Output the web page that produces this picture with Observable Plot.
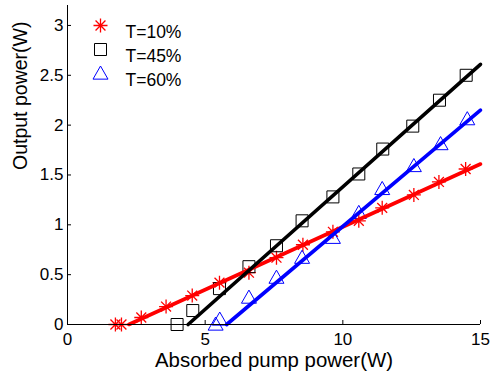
<!DOCTYPE html>
<html>
<head>
<meta charset="utf-8">
<script src="https://cdn.jsdelivr.net/npm/d3@7"></script>
<script src="https://cdn.jsdelivr.net/npm/@observablehq/plot@0.6"></script>
<style>
  html, body { margin: 0; padding: 0; background: #fff; }
  #chart { width: 490px; height: 377px; }
  svg { font-family: "Liberation Sans", Arial, Helvetica, sans-serif; }
</style>
</head>
<body>
<div id="chart"></div>
<script>
// ---- data ----
const seriesNames = ["T=10%", "T=45%", "T=60%"];
const seriesColors = ["#ff0000", "#000000", "#0000ff"];

const p10x = [1.74, 1.96, 2.68, 3.58, 4.53, 5.52, 6.59, 7.59, 8.55, 9.64, 10.58, 11.43, 12.58, 13.49, 14.46];
const p10y = [0, 0, 0.07, 0.18, 0.29, 0.42, 0.52, 0.67, 0.80, 0.93, 1.04, 1.17, 1.30, 1.43, 1.56];
const p45x = [3.98, 4.55, 5.52, 6.59, 7.59, 8.52, 9.64, 10.58, 11.45, 12.54, 13.51, 14.48];
const p45y = [0, 0.14, 0.36, 0.58, 0.79, 1.04, 1.28, 1.51, 1.76, 1.99, 2.25, 2.50];
const p60x = [5.38, 5.53, 6.59, 7.59, 8.52, 9.64, 10.58, 11.43, 12.58, 13.55, 14.52];
const p60y = [0, 0.05, 0.27, 0.47, 0.67, 0.87, 1.12, 1.36, 1.59, 1.81, 2.06];

// fitted lines (end points)
const fit10x = [2.23, 15], fit10y = [0, 1.61];
const fit45x = [4.38, 15], fit45y = [0, 2.61];
const fit60x = [5.78, 15], fit60y = [0, 2.15];

const xTicks = [0, 5, 10, 15];
const yTicks = [0, 0.5, 1, 1.5, 2, 2.5, 3];
const xLabel = "Absorbed pump power(W)";
const yLabel = "Output power(W)";

// ---- custom Matlab-like marker symbols ----
const symStar = {draw(ctx, size) {
  const r = Math.sqrt(size / Math.PI);
  const d = r * Math.SQRT1_2;
  ctx.moveTo(-r, 0); ctx.lineTo(r, 0);
  ctx.moveTo(0, -r); ctx.lineTo(0, r);
  ctx.moveTo(-d, -d); ctx.lineTo(d, d);
  ctx.moveTo(-d, d); ctx.lineTo(d, -d);
}};
const symSquare = {draw(ctx, size) {
  const r = Math.sqrt(size / Math.PI);
  ctx.moveTo(-r, -r); ctx.lineTo(r, -r); ctx.lineTo(r, r); ctx.lineTo(-r, r); ctx.closePath();
}};
const symTri = {draw(ctx, size) {
  const r = Math.sqrt(size / Math.PI);
  ctx.moveTo(0, -r); ctx.lineTo(r, r * 0.75); ctx.lineTo(-r, r * 0.75); ctx.closePath();
}};
const symbols = [symStar, symSquare, symTri];
const radii = [7, 6, 7.5];

const pts = [[p10x, p10y], [p45x, p45y], [p60x, p60y]].map(([xs, ys], i) =>
  xs.map((x, j) => ({x, y: ys[j], s: seriesNames[i]})));
const fits = [[fit10x, fit10y], [fit45x, fit45y], [fit60x, fit60y]].map(([xs, ys], i) =>
  xs.map((x, j) => ({x, y: ys[j], s: seriesNames[i]})));

const marks = [];
// markers
pts.forEach((d, i) => {
  marks.push(Plot.dot(d, {x: "x", y: "y", symbol: () => symbols[i], r: radii[i],
    stroke: seriesColors[i], strokeWidth: i === 0 ? 1.3 : 1, fill: "none"}));
});
// fitted lines
fits.forEach((d, i) => {
  marks.push(Plot.line(d, {x: "x", y: "y", stroke: seriesColors[i], strokeWidth: 3.6}));
});
// axes lines
marks.push(Plot.ruleX([0], {stroke: "#000", strokeWidth: 1}));
marks.push(Plot.ruleY([0], {stroke: "#000", strokeWidth: 1}));
marks.push(Plot.axisX({ticks: xTicks, tickFormat: d => String(d), tickSize: -4, tickPadding: 12,
  fontSize: 17, label: null, stroke: "#000", color: "#000"}));
marks.push(Plot.axisY({ticks: yTicks, tickFormat: d => String(d), tickSize: -4, tickPadding: 8,
  fontSize: 17, label: null, stroke: "#000", color: "#000"}));
// axis titles
marks.push(Plot.text([xLabel], {frameAnchor: "bottom", dy: 36, text: d => d, fontSize: 20.4,
  lineAnchor: "middle", fill: "#000"}));
marks.push(Plot.text([yLabel], {frameAnchor: "left", dx: -47, dy: 5, rotate: -90, text: d => d,
  fontSize: 19.5, lineAnchor: "middle", fill: "#000"}));
// legend
seriesNames.forEach((name, i) => {
  marks.push(Plot.dot([name], {frameAnchor: "top-left", dx: 33, dy: 20 + i * 24,
    symbol: () => symbols[i], r: radii[i], stroke: seriesColors[i], strokeWidth: i === 0 ? 1.3 : 1, fill: "none"}));
  marks.push(Plot.text([name], {frameAnchor: "top-left", dx: 58, dy: 20 + i * 24, text: d => d,
    textAnchor: "start", fontSize: 17.5, fill: "#000"}));
});

const chart = Plot.plot({
  width: 490, height: 377,
  marginLeft: 67, marginRight: 10, marginTop: 5, marginBottom: 53,
  style: {fontFamily: '"Liberation Sans", Arial, sans-serif', background: "#fff", color: "#000"},
  x: {domain: [0, 15]},
  y: {domain: [0, 3.2]},
  marks
});
document.getElementById("chart").append(chart);
</script>
</body>
</html>
